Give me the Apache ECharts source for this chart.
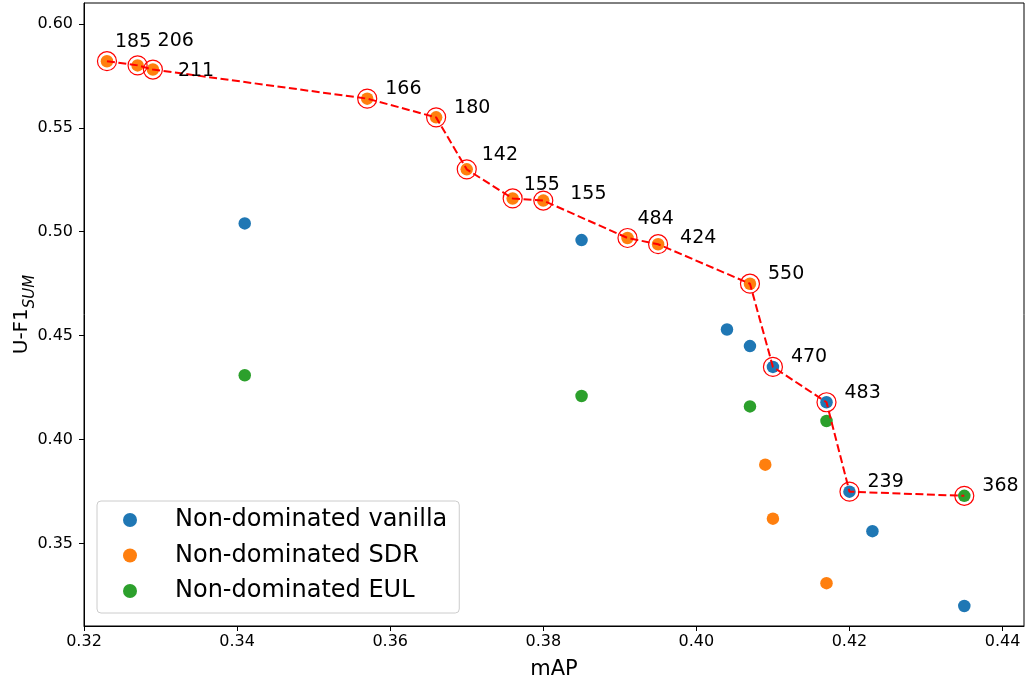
<!DOCTYPE html>
<html>
<head>
<meta charset="utf-8">
<title>mAP vs U-F1</title>
<script src="https://cdn.jsdelivr.net/npm/echarts@6/dist/echarts.min.js"></script>
<style>
  html, body { margin: 0; padding: 0; background: #fff; }
  #main { width: 1026px; height: 681px; }
</style>
</head>
<body>
<div id="main"></div>
<script>
// non-dominated vanilla
var vanillaMAP = [0.341, 0.385, 0.404, 0.407, 0.410, 0.417, 0.420, 0.423, 0.435]
var vanillaUF1 = [0.504, 0.496, 0.453, 0.445, 0.435, 0.418, 0.375, 0.356, 0.320]

// non-dominated SDR
var sdrMAP = [0.323, 0.327, 0.329, 0.357, 0.366, 0.370, 0.376, 0.380, 0.391, 0.395, 0.407, 0.409, 0.410, 0.417]
var sdrUF1 = [0.582, 0.580, 0.578, 0.564, 0.555, 0.530, 0.516, 0.515, 0.497, 0.494, 0.475, 0.388, 0.362, 0.331]

// non-dominated EUL
var eulMAP = [0.341, 0.385, 0.407, 0.417, 0.435]
var eulUF1 = [0.431, 0.421, 0.416, 0.409, 0.373]

// pareto front (red dashed line + rings)
var frontMAP = [0.323, 0.327, 0.329, 0.357, 0.366, 0.370, 0.376, 0.380, 0.391, 0.395, 0.407, 0.410, 0.417, 0.420, 0.435]
var frontUF1 = [0.582, 0.580, 0.578, 0.564, 0.555, 0.530, 0.516, 0.515, 0.497, 0.494, 0.475, 0.435, 0.418, 0.375, 0.373]
var frontLabels = ['185', '206', '211', '166', '180', '142', '155', '155', '484', '424', '550', '470', '483', '239', '368']

var xTicks = [0.32, 0.34, 0.36, 0.38, 0.40, 0.42, 0.44]
var yTicks = [0.35, 0.40, 0.45, 0.50, 0.55, 0.60]

var FONT = 'DejaVu Sans'

function pairs(xs, ys) {
  var out = []
  for (var i = 0; i < xs.length; i++) {
    out.push([xs[i], ys[i]])
  }
  return out
}

// label nudges (px), most labels sit up-right of the point
var labelNudge = {
  0: [8, -19], 1: [20, -24], 2: [25, 2], 5: [15, -14],
  6: [11, -13], 7: [27, -6], 8: [10, -19], 9: [22, -6]
}

function frontPoints() {
  var out = []
  for (var i = 0; i < frontMAP.length; i++) {
    var off = labelNudge[i] || [18, -9.5]
    out.push({
      value: [frontMAP[i], frontUF1[i]],
      label: { offset: off, color: '#000' }
    })
  }
  return out
}

var myChart = echarts.init(document.getElementById('main'), null, { renderer: 'canvas' })

function dotSeries(name, color, xs, ys) {
  return {
    name: name,
    type: 'scatter',
    data: pairs(xs, ys),
    symbol: 'circle',
    symbolSize: 12.5,
    itemStyle: { color: color, opacity: 1 },
    emphasis: { disabled: true },
    z: 2
  }
}

var option = {
  animation: false,
  textStyle: { fontFamily: FONT },
  grid: {
    left: 84, right: 2, top: 3, bottom: 55,
    outerBoundsMode: 'none',
    containLabel: false,
    show: true, borderColor: '#000', borderWidth: 1
  },
  legend: {
    data: ['Non-dominated vanilla', 'Non-dominated SDR', 'Non-dominated EUL'],
    orient: 'vertical',
    left: 97, top: 501,
    padding: [6, 12, 9, 26],
    itemGap: 9.5,
    itemWidth: 14, itemHeight: 14,
    icon: 'circle',
    backgroundColor: 'rgba(255,255,255,0.8)',
    borderColor: '#cccccc', borderWidth: 1, borderRadius: 4,
    formatter: function (name) { return '{g|}{t|' + name + '}' },
    textStyle: {
      fontFamily: FONT, fontSize: 24, color: '#000', lineHeight: 26,
      rich: {
        g: { width: 33 },
        t: { fontFamily: FONT, fontSize: 24, color: '#000', lineHeight: 26 }
      }
    }
  },
  xAxis: {
    type: 'value',
    min: 0.32, max: 0.4428,
    name: 'mAP',
    nameLocation: 'middle',
    nameGap: 33,
    nameTextStyle: { fontFamily: FONT, fontSize: 21, color: '#000' },
    axisLine: { show: true, lineStyle: { color: '#000', width: 1 } },
    axisTick: { show: true, inside: false, length: 5, customValues: xTicks, lineStyle: { color: '#000' } },
    axisLabel: {
      customValues: xTicks, margin: 8,
      fontFamily: FONT, fontSize: 16, color: '#000',
      formatter: function (v) { return v.toFixed(2) }
    },
    splitLine: { show: false }
  },
  yAxis: {
    type: 'value',
    min: 0.3104, max: 0.61,
    name: '{a|U-F1}{b|SUM}',
    nameLocation: 'middle',
    nameRotate: 90,
    nameGap: 50,
    nameMoveOverlap: false,
    nameTextStyle: {
      fontFamily: FONT, color: '#000',
      rich: {
        a: { fontFamily: FONT, fontSize: 20, lineHeight: 22, verticalAlign: 'top', color: '#000' },
        b: { fontFamily: FONT, fontSize: 15, fontStyle: 'italic', lineHeight: 16, padding: [11, 0, 0, 0], verticalAlign: 'top', color: '#000' }
      }
    },
    axisLine: { show: true, lineStyle: { color: '#000', width: 1 } },
    axisTick: { show: true, inside: false, length: 5, customValues: yTicks, lineStyle: { color: '#000' } },
    axisLabel: {
      customValues: yTicks, margin: 11,
      fontFamily: FONT, fontSize: 16, color: '#000',
      formatter: function (v) { return v.toFixed(2) }
    },
    splitLine: { show: false }
  },
  series: [
    dotSeries('Non-dominated vanilla', '#1f77b4', vanillaMAP, vanillaUF1),
    dotSeries('Non-dominated SDR', '#ff7f0e', sdrMAP, sdrUF1),
    dotSeries('Non-dominated EUL', '#2ca02c', eulMAP, eulUF1),
    {
      name: 'front',
      type: 'line',
      data: pairs(frontMAP, frontUF1),
      showSymbol: false,
      symbol: 'none',
      lineStyle: { color: '#ff0000', width: 2, type: [8, 3.5] },
      emphasis: { disabled: true },
      z: 3
    },
    {
      name: 'ring',
      type: 'scatter',
      data: frontPoints(),
      symbol: 'circle',
      symbolSize: 19,
      itemStyle: { color: 'rgba(0,0,0,0)', borderColor: '#ff0000', borderWidth: 1.2, opacity: 1 },
      label: {
        show: true,
        position: 'inside',
        align: 'left',
        verticalAlign: 'middle',
        fontFamily: FONT, fontSize: 19, color: '#000',
        textBorderWidth: 0, textBorderColor: 'transparent',
        formatter: function (p) { return frontLabels[p.dataIndex] }
      },
      emphasis: { disabled: true },
      z: 4
    }
  ]
}

myChart.setOption(option)
</script>
</body>
</html>
